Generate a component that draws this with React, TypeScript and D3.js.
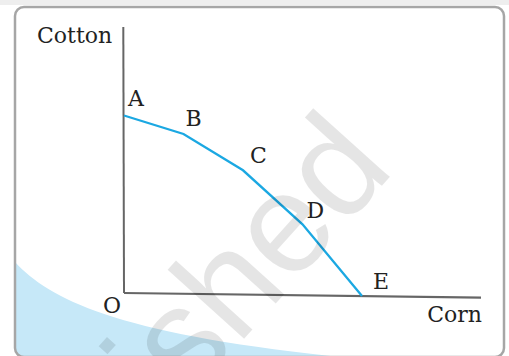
import React from 'react';
import * as d3 from 'd3';

// production possibility schedule
const points = ['A', 'B', 'C', 'D', 'E'];
const corn = [0, 1, 2, 3, 4];
const cotton = [10, 9, 7, 4, 0];

const W = 509;
const H = 356;
const serif = "'DejaVu Serif', serif";

export default function App() {
  const x = d3.scaleLinear().domain([0, 4]).range([124, 362]);
  const y = d3.scaleLinear().domain([0, 10]).range([293, 115.5]);
  // the horizontal axis in the original leans down a little to the right
  const tilt = 0.0129;
  const py = (i: number) => y(cotton[i]) + tilt * (x(corn[i]) - x(0));

  const line = d3.line<number>()
    .x(i => x(corn[i]))
    .y(i => py(i));

  const labelOffset = [[4, -10], [2, -8], [7, -7], [4, -6], [11, -7]];

  const swoosh = d3.path();
  swoosh.moveTo(15, 262);
  swoosh.bezierCurveTo(50, 300, 120, 335, 350, 358);
  swoosh.lineTo(15, 358);
  swoosh.closePath();

  const axisEndX = 481;
  const axisEndY = y(0) + tilt * (axisEndX - x(0));

  return (
    <svg width={W} height={H} style={{ position: 'fixed', left: 0, top: 0, background: '#fff' }}>
      <defs>
        <clipPath id="card">
          <rect x={15} y={7} width={489} height={350} rx={9} />
        </clipPath>
      </defs>
      <rect x={0} y={0} width={W} height={5} fill="#eeeeee" />
      <rect x={15} y={7} width={489} height={350} rx={9} fill="#fff" />
      <path d={swoosh.toString()} fill="#c6e8f8" clipPath="url(#card)" />
      <rect x={15} y={7} width={489} height={350} rx={9} fill="none" stroke="#a6a6a6" strokeWidth={2.5} />

      {/* axes */}
      <line x1={123.3} y1={27} x2={124} y2={y(0)} stroke="#666" strokeWidth={2} />
      <line x1={124} y1={y(0)} x2={axisEndX} y2={axisEndY} stroke="#666" strokeWidth={2.2} />

      <path d={line(d3.range(points.length)) || ''} fill="none" stroke="#1ba8e2" strokeWidth={2.3} />

      <g fontFamily={serif} fontSize={22} fill="#222">
        <text x={37} y={43}>Cotton</text>
        <text x={482} y={322} textAnchor="end">Corn</text>
        <text x={103} y={313}>O</text>
        {points.map((p, i) => (
          <text key={p} x={x(corn[i]) + labelOffset[i][0]} y={py(i) + labelOffset[i][1]}>{p}</text>
        ))}
      </g>

      <g clipPath="url(#card)">
        <text
          transform="translate(396,170) rotate(-48)"
          textAnchor="end"
          fontFamily="'Liberation Sans', Arial, sans-serif"
          fontSize={142}
          fill="#000"
          fillOpacity={0.1}
        >published</text>
      </g>
    </svg>
  );
}
